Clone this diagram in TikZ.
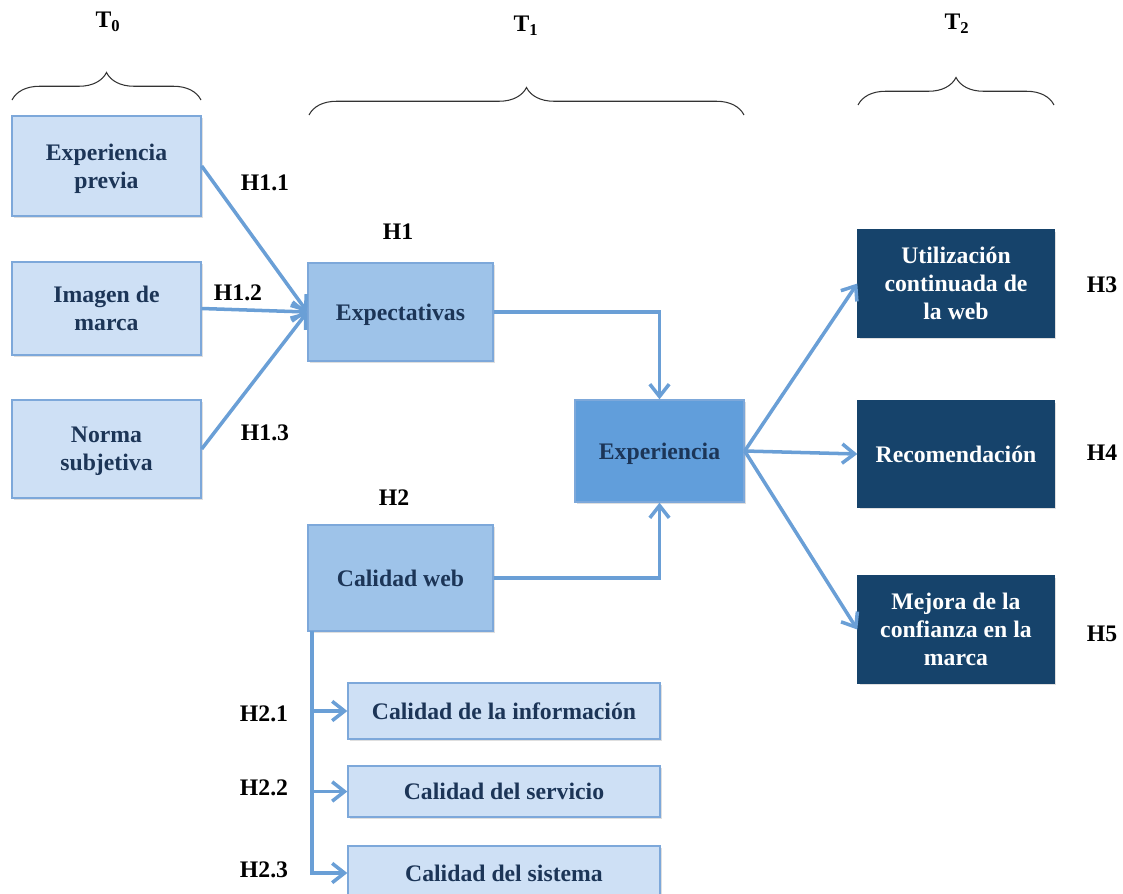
\documentclass[tikz,border=0pt]{standalone}
\usepackage{fontspec}
\setmainfont{Liberation Serif}
\usepackage{tikz}
\usetikzlibrary{arrows.meta,decorations.pathreplacing,shadows}

\definecolor{lightfill}{HTML}{CEE0F5}
\definecolor{midfill}{HTML}{9EC3E9}
\definecolor{expfill}{HTML}{619EDB}
\definecolor{darkfill}{HTML}{16436B}
\definecolor{boxline}{HTML}{7DA8DA}
\definecolor{arrowblue}{HTML}{6A9FD6}
\definecolor{textnavy}{HTML}{1C3557}

\begin{document}
\begin{tikzpicture}[x=0.02cm,y=-0.02cm,
    box/.style={draw=boxline, line width=0.8pt, align=center, inner sep=2pt,
        font=\bfseries\fontsize{13.5}{16}\selectfont, text=textnavy, text depth=-3pt,
        drop shadow={shadow xshift=1.2pt, shadow yshift=-1.2pt, opacity=0.25}},
    lightbox/.style={box, fill=lightfill},
    midbox/.style={box, fill=midfill},
    expbox/.style={box, fill=expfill},
    darkbox/.style={box, fill=darkfill, draw=darkfill, text=white},
    hlabel/.style={font=\bfseries\fontsize{13.5}{16}\selectfont},
    arr/.style={draw=arrowblue, line width=2pt, -{Straight Barb[length=7pt,width=11pt]}},
    brace/.style={decorate, decoration={brace, amplitude=0.55cm}, line width=0.6pt, black!80}]
    \useasboundingbox (0,0) rectangle (1123,893);

    % time periods
    \draw[brace] (12,100) -- (201,100);
    \draw[brace] (309,115) -- (744,115);
    \draw[brace] (858,105) -- (1054,105);
    \node[hlabel] (t0) at (108,22) {T\textsubscript{0}};
    \node[hlabel] (t1) at (526,26) {T\textsubscript{1}};
    \node[hlabel] (t2) at (957,24) {T\textsubscript{2}};

    % antecedents
    \node[lightbox, minimum width=3.78cm, minimum height=2.0cm] (prev) at (106.5,166) {Experiencia\\previa};
    \node[lightbox, minimum width=3.78cm, minimum height=1.86cm] (marca) at (106.5,308.5) {Imagen de\\marca};
    \node[lightbox, minimum width=3.78cm, minimum height=1.96cm] (norma) at (106.5,449) {Norma\\subjetiva};

    % central constructs
    \node[midbox, minimum width=3.7cm, minimum height=1.96cm] (expec) at (400.5,312) {Expectativas};
    \node[expbox, minimum width=3.38cm, minimum height=2.04cm] (exper) at (659.5,451) {Experiencia};
    \node[midbox, minimum width=3.7cm, minimum height=2.12cm] (cweb) at (400.5,578) {Calidad web};

    % web quality dimensions
    \node[lightbox, minimum width=6.24cm, minimum height=1.12cm] (cinfo) at (504,711) {Calidad de la información};
    \node[lightbox, minimum width=6.24cm, minimum height=1.02cm] (cserv) at (504,791.5) {Calidad del servicio};
    \node[lightbox, minimum width=6.24cm, minimum height=1.08cm] (csist) at (504,873) {Calidad del sistema};

    % outcomes
    \node[darkbox, minimum width=3.92cm, minimum height=2.14cm] (uso) at (956,283.5) {Utilización\\continuada de\\la web};
    \node[darkbox, minimum width=3.92cm, minimum height=2.12cm] (recom) at (956,454) {Recomendación};
    \node[darkbox, minimum width=3.92cm, minimum height=2.14cm] (confi) at (956,629.5) {Mejora de la\\confianza en la\\marca};

    % hypotheses
    \node[hlabel] (h11) at (265,183) {H1.1};
    \node[hlabel] (h12) at (238,293) {H1.2};
    \node[hlabel] (h13) at (265,433) {H1.3};
    \node[hlabel] (h1) at (398,232) {H1};
    \node[hlabel] (h2) at (394,498) {H2};
    \node[hlabel] (h3) at (1102,285) {H3};
    \node[hlabel] (h4) at (1102,453) {H4};
    \node[hlabel] (h5) at (1102,634) {H5};
    \node[hlabel] (h21) at (264,714) {H2.1};
    \node[hlabel] (h22) at (264,788) {H2.2};
    \node[hlabel] (h23) at (264,870) {H2.3};

    % connectors
    \draw[arr] (prev.east) -- (expec.west);
    \draw[arr] (marca.east) -- (expec.west);
    \draw[arr] (norma.east) -- (expec.west);
    \draw[arr] (expec.east) -| (exper.north);
    \draw[arr] (cweb.east) -| (exper.south);
    \draw[arr] (exper.east) -- (uso.west);
    \draw[arr] (exper.east) -- (recom.west);
    \draw[arr] (exper.east) -- (confi.west);
    \coordinate (trunk) at (312,631);
    \draw[arr] (trunk) |- (cinfo.west);
    \draw[arr] (trunk) |- (cserv.west);
    \draw[arr] (trunk) |- (csist.west);
\end{tikzpicture}
\end{document}
